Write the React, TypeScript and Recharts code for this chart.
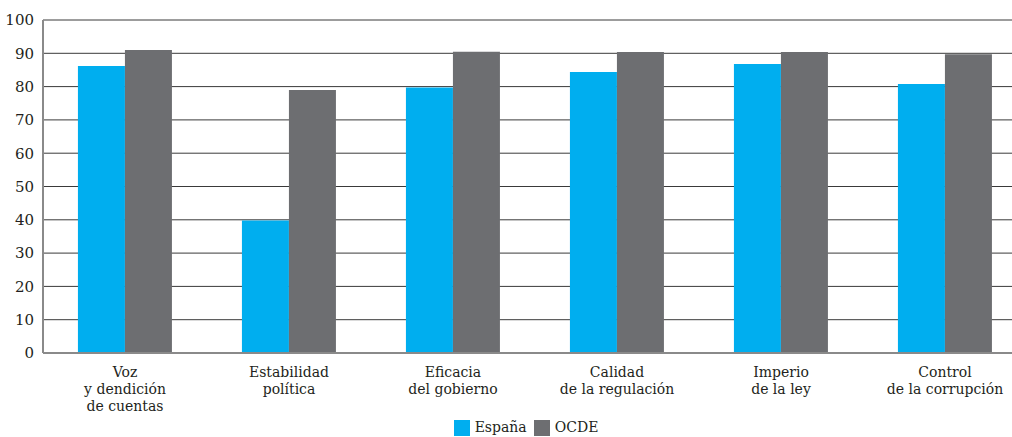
import * as React from "react";
import { Bar, BarChart, CartesianGrid, Legend, XAxis, YAxis } from "recharts";

const categories = [
  "Voz\ny dendición\nde cuentas",
  "Estabilidad\npolítica",
  "Eficacia\ndel gobierno",
  "Calidad\nde la regulación",
  "Imperio\nde la ley",
  "Control\nde la corrupción",
];
const espana = [86.2, 39.8, 79.7, 84.4, 86.8, 80.8];
const ocde = [91.0, 79.0, 90.5, 90.4, 90.4, 89.7];
const yTicks = [0, 10, 20, 30, 40, 50, 60, 70, 80, 90, 100];

const BLUE = "#00aeef";
const GRAY = "#6d6e71";
const FONT = "DejaVu Serif";

const data = categories.map((name, i) => ({
  name,
  espana: espana[i],
  ocde: ocde[i],
}));

const CategoryTick = (props: any) => {
  const { x, y, payload } = props;
  const lines = String(payload.value).split("\n");
  return (
    <text x={x} y={y} textAnchor="middle" fill="#231f20" fontSize={14} fontFamily={FONT}>
      {lines.map((line, i) => (
        <tspan key={i} x={x} dy={i === 0 ? 16 : 17}>
          {line}
        </tspan>
      ))}
    </text>
  );
};

const LegendContent = () => (
  <div
    style={{
      display: "flex",
      justifyContent: "center",
      alignItems: "center",
      fontFamily: FONT,
      fontSize: 14,
      color: "#231f20",
      width: 1012,
      paddingLeft: 40,
      boxSizing: "border-box",
      lineHeight: "17px",
    }}
  >
    <span style={{ width: 16, height: 16, background: BLUE, display: "inline-block", marginRight: 5 }} />
    <span style={{ marginRight: 7 }}>España</span>
    <span style={{ width: 16, height: 16, background: GRAY, display: "inline-block", marginRight: 5 }} />
    <span>OCDE</span>
  </div>
);

export default function App() {
  return (
    <div
      style={{
        position: "absolute",
        left: 0,
        top: 0,
        width: 1012,
        height: 437,
        overflow: "hidden",
        background: "#fff",
      }}
    >
      <BarChart
        width={1027}
        height={437}
        data={data}
        margin={{ top: 20, right: 0, bottom: 0, left: 0 }}
        barCategoryGap="21.3%"
        barGap={0}
      >
        <CartesianGrid vertical={false} stroke="#3a3a3a" strokeWidth={1} />
        <XAxis
          dataKey="name"
          interval={0}
          tickLine={false}
          axisLine={{ stroke: "#8a8a8a", strokeWidth: 2 }}
          tick={<CategoryTick />}
          height={64}
        />
        <YAxis
          domain={[0, 100]}
          ticks={yTicks}
          interval={0}
          width={43}
          tickLine={false}
          axisLine={{ stroke: "#8a8a8a", strokeWidth: 2 }}
          tickMargin={3}
          tick={{ fill: "#231f20", fontSize: 15, fontFamily: FONT }}
        />
        <Legend
          verticalAlign="bottom"
          height={20}
          content={<LegendContent />}
          wrapperStyle={{ bottom: -2, left: 0, width: 1012 }}
        />
        <Bar dataKey="espana" name="España" fill={BLUE} isAnimationActive={false} />
        <Bar dataKey="ocde" name="OCDE" fill={GRAY} isAnimationActive={false} />
      </BarChart>
    </div>
  );
}
